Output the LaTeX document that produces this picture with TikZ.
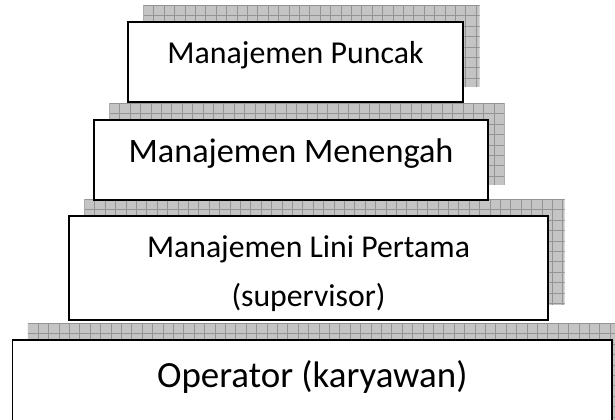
\documentclass[tikz,border=0pt]{standalone}
\usepackage{fontspec}
\setmainfont{Carlito}
\usetikzlibrary{calc,backgrounds}
\def\ShadowOff{16}
\def\GridStep{7.8pt}

\tikzset{
  level/.style={draw=black, line width=1.1pt, fill=white, inner sep=0pt, align=center},
  shadowfill/.style={fill=black!23},
  shadowgrid/.style={draw=black!42, line width=0.45pt},
}

% patterned drop shadow behind a box, shifted up and to the right
\newcommand{\levelshadow}[1]{%
  \begin{scope}
    \clip ($(#1.south west)+(\ShadowOff,-\ShadowOff)$) rectangle ($(#1.north east)+(\ShadowOff,-\ShadowOff)$);
    \fill[shadowfill] ($(#1.south west)+(\ShadowOff,-\ShadowOff)$) rectangle ($(#1.north east)+(\ShadowOff,-\ShadowOff)$);
    \draw[shadowgrid, shift={($(#1.north west)+(\ShadowOff,-\ShadowOff)$)}, step=\GridStep] (0pt,-120pt) grid (530pt,0pt);
  \end{scope}}

\begin{document}
\begin{tikzpicture}[x=0.75pt, y=-0.75pt]
  \clip (0,0) rectangle (615,419);

  \node[level, minimum width=251.25pt, text height=30.75pt, text depth=29.25pt,
        font=\fontsize{23.9}{28}\selectfont] (puncak) at (295.5,62) {Manajemen Puncak};
  \node[level, minimum width=295.5pt, text height=31.5pt, text depth=28.5pt,
        font=\fontsize{25.7}{30}\selectfont] (menengah) at (291,160) {Manajemen Menengah};
  \node[level, minimum width=359.25pt, text height=30.75pt, text depth=47.25pt,
        font=\fontsize{23.8}{36.75}\selectfont] (lini) at (308.5,268)
        {\begin{tabular}[t]{@{}c@{}}Manajemen Lini Pertama\\(supervisor)\end{tabular}};
  \node[level, minimum width=449.6pt, text height=35.25pt, text depth=39.75pt,
        font=\fontsize{27.7}{32}\selectfont] (operator) at (312.25,390) {Operator (karyawan)};

  \begin{scope}[on background layer]
    \levelshadow{puncak}
    \levelshadow{menengah}
    \levelshadow{lini}
    \levelshadow{operator}
  \end{scope}
\end{tikzpicture}
\end{document}
